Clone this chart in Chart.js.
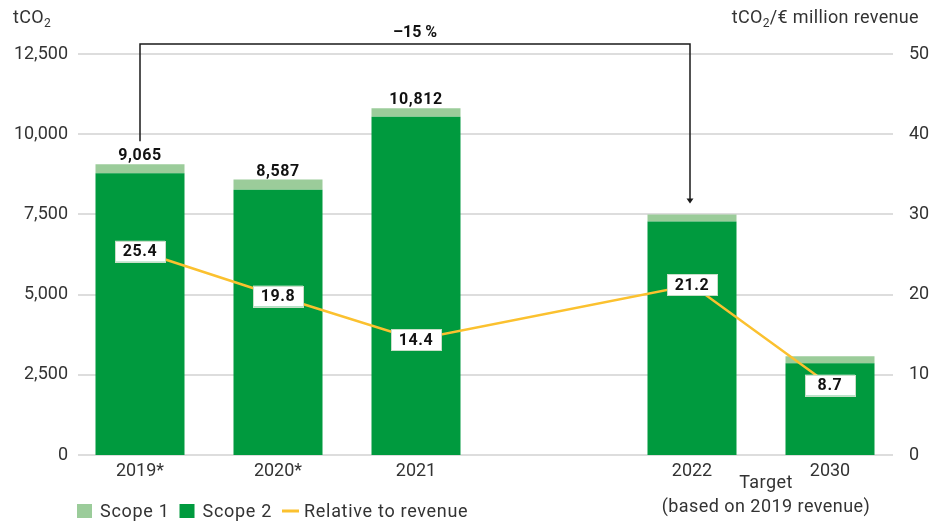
<!DOCTYPE html>
<html><head><meta charset="utf-8">
<script src="https://cdn.jsdelivr.net/npm/chart.js@4/dist/chart.umd.min.js"></script>
<style>html,body{margin:0;padding:0;background:#fff}#wrap{width:930px;height:521px;position:relative}</style>
</head><body><div id="wrap"><canvas id="c" width="930" height="521"></canvas></div>
<script>
const categories = ['2019*', '2020*', '2021', '', '2022', '2030'];
const scope1 = [280, 316, 271, null, 218, 217];
const scope2 = [8785, 8271, 10541, null, 7276, 2861];
const totals = [9065, 8587, 10812, null, null, null];
const relative = [25.4, 19.8, 14.4, null, 21.2, 8.7];
const leftTicks = [0, 2500, 5000, 7500, 10000, 12500];
const rightTicks = [0, 10, 20, 30, 40, 50];
const seriesNames = ['Scope 1', 'Scope 2', 'Relative to revenue'];
const leftTitle = ['tCO', '2', ''];
const rightTitle = ['tCO', '2', '/€ million revenue'];
const changeLabel = '–15 %';
const targetLabel = ['Target', '(based on 2019 revenue)'];

const C_S1 = '#9bcc9a', C_S2 = '#009a3e', C_LINE = '#fbc12f';
const FONT = 'Roboto, "Liberation Sans", sans-serif';
const TXT = '#333333';

function fmt(v) { return v.toLocaleString('en-US'); }
function setLS(ctx, v) { if ('letterSpacing' in ctx) ctx.letterSpacing = v; }

const overlay = {
  id: 'overlay',
  beforeDatasetsDraw(chart) {
    const ctx = chart.ctx, y = chart.scales.y, a = chart.chartArea;
    ctx.save();
    ctx.strokeStyle = '#dddddd';
    ctx.lineWidth = 2;
    leftTicks.forEach(v => {
      const py = Math.round(y.getPixelForValue(v));
      ctx.beginPath(); ctx.moveTo(a.left + 7, py); ctx.lineTo(a.right - 6, py); ctx.stroke();
    });
    ctx.restore();
  },
  afterDatasetsDraw(chart) {
    const ctx = chart.ctx, a = chart.chartArea, x = chart.scales.x;
    const m1 = chart.getDatasetMeta(1); // scope1 (top)
    const mL = chart.getDatasetMeta(2);
    ctx.save();
    // totals
    ctx.font = 'bold 16px ' + FONT; ctx.fillStyle = '#111'; ctx.textAlign = 'center'; ctx.textBaseline = 'alphabetic';
    setLS(ctx, '0.6px');
    totals.forEach((t, i) => {
      if (t == null) return;
      const el = m1.data[i];
      ctx.fillText(fmt(t), el.x, el.y - 4);
    });
    // line labels
    relative.forEach((v, i) => {
      if (v == null) return;
      const el = mL.data[i];
      const w = 50, h = 21;
      ctx.fillStyle = '#ffffff';
      ctx.fillRect(el.x - w / 2, el.y - h / 2, w, h);
      ctx.strokeStyle = '#c8dfc8'; ctx.lineWidth = 1;
      ctx.strokeRect(Math.round(el.x - w / 2) + 0.5, Math.round(el.y - h / 2) + 0.5, w, h);
      ctx.fillStyle = '#111'; ctx.textBaseline = 'middle';
      ctx.fillText(v.toFixed(1), el.x, el.y + 1);
    });
    setLS(ctx, '0px');
    // bracket
    const x0 = m1.data[0].x, x1 = m1.data[4].x - 2;
    const yTop = a.top - 10;
    const yL = m1.data[0].y - 23;
    const yR = m1.data[4].y - 11;
    ctx.strokeStyle = '#1a1a1a'; ctx.lineWidth = 1.5;
    ctx.beginPath();
    ctx.moveTo(x0, yL); ctx.lineTo(x0, yTop); ctx.lineTo(x1, yTop); ctx.lineTo(x1, yR - 4);
    ctx.stroke();
    ctx.fillStyle = '#1a1a1a';
    ctx.beginPath(); ctx.moveTo(x1 - 3.5, yR - 5); ctx.lineTo(x1 + 3.5, yR - 5); ctx.lineTo(x1, yR); ctx.closePath(); ctx.fill();
    ctx.font = 'bold 16px ' + FONT; ctx.textAlign = 'center'; ctx.textBaseline = 'middle'; ctx.fillStyle = '#111';
    ctx.fillText(changeLabel, (x0 + x1) / 2, yTop - 11);
    // target text
    const tx = (x.getPixelForValue(4) + x.getPixelForValue(5)) / 2 + 5;
    ctx.font = '18px ' + FONT; ctx.fillStyle = TXT;
    setLS(ctx, '0.45px');
    ctx.fillText(targetLabel[0], tx, 483);
    ctx.fillText(targetLabel[1], tx, 507);
    // axis titles
    setLS(ctx, '0.35px');
    function subTitle(parts, xPos, align) {
      ctx.textBaseline = 'alphabetic'; ctx.textAlign = 'left';
      ctx.font = '18px ' + FONT; const w0 = ctx.measureText(parts[0]).width;
      ctx.font = '12px ' + FONT; const w1 = ctx.measureText(parts[1]).width;
      ctx.font = '18px ' + FONT; const w2 = ctx.measureText(parts[2]).width;
      let sx = align === 'right' ? xPos - (w0 + w1 + w2) : xPos;
      const by = 23;
      ctx.fillStyle = TXT;
      ctx.font = '18px ' + FONT; ctx.fillText(parts[0], sx, by);
      ctx.font = '12px ' + FONT; ctx.fillText(parts[1], sx + w0, by + 4);
      ctx.font = '18px ' + FONT; ctx.fillText(parts[2], sx + w0 + w1, by);
    }
    subTitle(leftTitle, 13, 'left');
    subTitle(rightTitle, 919, 'right');
    // legend
    const ly = 511;
    let lx = 77;
    ctx.font = '18px ' + FONT; ctx.textBaseline = 'middle'; ctx.textAlign = 'left';
    setLS(ctx, '0.7px');
    const items = [{ name: seriesNames[0], color: C_S1, type: 'box' }, { name: seriesNames[1], color: C_S2, type: 'box' }, { name: seriesNames[2], color: C_LINE, type: 'line' }];
    items.forEach(it => {
      if (it.type === 'box') {
        ctx.fillStyle = it.color; ctx.fillRect(lx, ly - 7, 15, 14); lx += 15 + 8;
      } else {
        ctx.strokeStyle = it.color; ctx.lineWidth = 3; ctx.beginPath(); ctx.moveTo(lx, ly); ctx.lineTo(lx + 17, ly); ctx.stroke(); lx += 17 + 5;
      }
      ctx.fillStyle = TXT; ctx.fillText(it.name, lx, ly + 1);
      lx += ctx.measureText(it.name).width + 10;
    });
    setLS(ctx, '0px');
    ctx.restore();
  }
};

new Chart(document.getElementById('c'), {
  type: 'bar',
  data: {
    labels: categories,
    datasets: [
      { label: seriesNames[1], data: scope2, backgroundColor: C_S2, stack: 's', order: 2, barPercentage: 1, categoryPercentage: 0.645 },
      { label: seriesNames[0], data: scope1, backgroundColor: C_S1, stack: 's', order: 2, barPercentage: 1, categoryPercentage: 0.645 },
      { type: 'line', label: seriesNames[2], data: relative, yAxisID: 'y1', borderColor: C_LINE, borderWidth: 2.5, pointRadius: 0, spanGaps: true, tension: 0, order: 0 }
    ]
  },
  options: {
    responsive: false, animation: false,
    layout: { padding: { top: 54, left: 0, right: 0, bottom: 0 } },
    plugins: { legend: { display: false }, tooltip: { enabled: false } },
    scales: {
      x: {
        stacked: true, offset: true,
        grid: { display: false, drawTicks: false }, border: { display: false },
        ticks: { font: { family: FONT, size: 18 }, color: TXT, padding: 6, maxRotation: 0, autoSkip: false },
        afterFit(s) { s.height = 66; }
      },
      y: {
        stacked: true, position: 'left', min: 0, max: 12500,
        grid: { display: false, drawTicks: false }, border: { display: false },
        afterBuildTicks(s) { s.ticks = leftTicks.map(v => ({ value: v })); },
        ticks: { font: { family: FONT, size: 18 }, color: TXT, padding: 3, callback: v => fmt(v) },
        afterFit(s) { s.width = 71; }
      },
      y1: {
        position: 'right', min: 0, max: 50,
        grid: { display: false, drawTicks: false }, border: { display: false },
        afterBuildTicks(s) { s.ticks = rightTicks.map(v => ({ value: v })); },
        ticks: { font: { family: FONT, size: 18 }, color: TXT, padding: 10 },
        afterFit(s) { s.width = 31; }
      }
    }
  },
  plugins: [overlay]
});
</script></body></html>
